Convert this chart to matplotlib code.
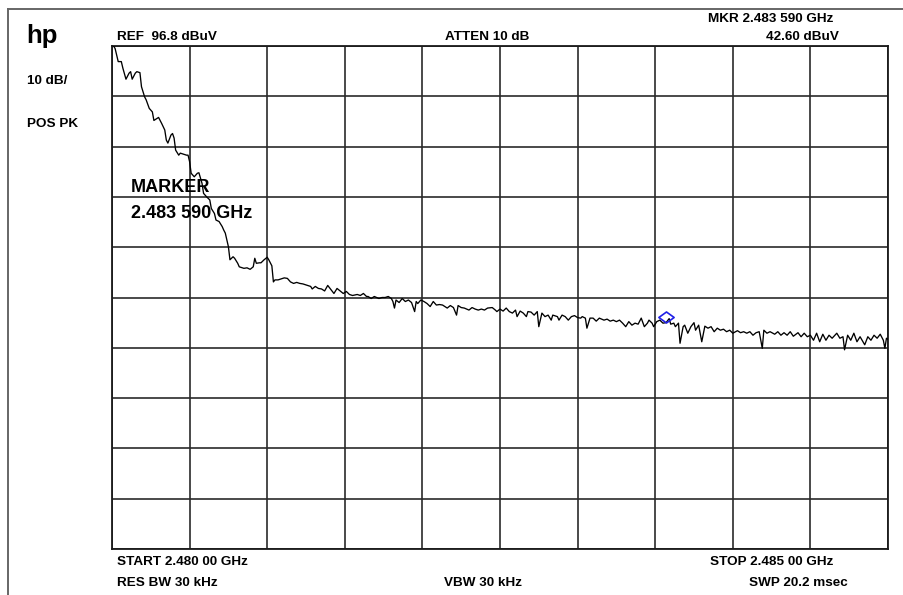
import matplotlib
matplotlib.use("Agg")
import matplotlib.pyplot as plt
from matplotlib.lines import Line2D
from matplotlib.path import Path
import numpy as np

W, H = 904, 595

ref_level = 96.8      # dBuV at top graticule
db_per_div = 10
n_div = 10
span_mhz = 5.0        # 2.480 00 .. 2.485 00 GHz
marker_mhz = 3.59
marker_dbuv = 42.60

# sweep trace, offset from START (MHz) and level (dBuV)
trace_mhz = [
    0.01, 0.02, 0.03, 0.04, 0.06, 0.07, 0.09, 0.11, 0.12, 0.13,
    0.15, 0.16, 0.18, 0.19, 0.21, 0.22, 0.24, 0.26, 0.27, 0.29,
    0.30, 0.32, 0.34, 0.35, 0.36, 0.38, 0.39, 0.40, 0.41, 0.43,
    0.44, 0.46, 0.48, 0.49, 0.50, 0.51, 0.53, 0.55, 0.56, 0.58,
    0.59, 0.61, 0.63, 0.64, 0.66, 0.67, 0.69, 0.71, 0.72, 0.73,
    0.75, 0.76, 0.78, 0.79, 0.81, 0.82, 0.85, 0.87, 0.89, 0.91,
    0.92, 0.93, 0.95, 0.96, 0.98, 1.00, 1.01, 1.03, 1.04, 1.05,
    1.07, 1.09, 1.11, 1.13, 1.15, 1.17, 1.19, 1.21, 1.23, 1.25,
    1.28, 1.29, 1.31, 1.33, 1.35, 1.37, 1.39, 1.42, 1.43, 1.45,
    1.47, 1.49, 1.51, 1.53, 1.55, 1.58, 1.60, 1.62, 1.64, 1.65,
    1.67, 1.69, 1.72, 1.74, 1.76, 1.78, 1.80, 1.81, 1.82, 1.83,
    1.85, 1.87, 1.89, 1.91, 1.93, 1.95, 1.96, 1.97, 1.99, 2.01,
    2.03, 2.05, 2.07, 2.09, 2.11, 2.13, 2.16, 2.18, 2.20, 2.22,
    2.23, 2.25, 2.27, 2.30, 2.32, 2.34, 2.36, 2.38, 2.40, 2.42,
    2.45, 2.47, 2.48, 2.50, 2.52, 2.54, 2.56, 2.58, 2.60, 2.61,
    2.63, 2.65, 2.67, 2.68, 2.70, 2.72, 2.74, 2.75, 2.77, 2.79,
    2.81, 2.83, 2.84, 2.87, 2.88, 2.90, 2.92, 2.94, 2.96, 2.98,
    3.00, 3.02, 3.03, 3.05, 3.06, 3.08, 3.10, 3.12, 3.14, 3.17,
    3.19, 3.21, 3.23, 3.25, 3.27, 3.29, 3.31, 3.33, 3.35, 3.37,
    3.39, 3.41, 3.43, 3.45, 3.46, 3.48, 3.49, 3.51, 3.53, 3.55,
    3.57, 3.59, 3.60, 3.62, 3.63, 3.65, 3.66, 3.68, 3.69, 3.71,
    3.73, 3.75, 3.76, 3.78, 3.80, 3.82, 3.84, 3.86, 3.88, 3.90,
    3.92, 3.94, 3.96, 3.98, 4.00, 4.03, 4.05, 4.07, 4.09, 4.11,
    4.13, 4.15, 4.17, 4.19, 4.20, 4.22, 4.24, 4.27, 4.29, 4.31,
    4.33, 4.35, 4.37, 4.39, 4.42, 4.44, 4.46, 4.48, 4.50, 4.52,
    4.54, 4.56, 4.58, 4.60, 4.62, 4.64, 4.67, 4.69, 4.71, 4.72,
    4.74, 4.76, 4.78, 4.80, 4.82, 4.85, 4.87, 4.89, 4.91, 4.93,
    4.95, 4.97, 4.98, 4.99, 5.00,
]
trace_dbuv = [
    96.8, 96.3, 95.0, 93.7, 93.7, 92.4, 90.2, 91.4, 91.7, 90.2,
    91.4, 91.7, 91.5, 88.7, 86.7, 86.1, 84.4, 83.7, 82.0, 82.4,
    82.6, 81.4, 80.1, 78.1, 77.5, 79.1, 79.4, 78.5, 76.1, 75.1,
    75.5, 75.3, 75.1, 75.1, 73.8, 71.5, 70.8, 71.5, 71.6, 69.5,
    67.5, 66.8, 66.2, 64.5, 63.5, 62.2, 61.9, 60.9, 60.2, 59.6,
    56.9, 54.3, 54.9, 54.6, 53.6, 52.9, 52.6, 52.7, 52.4, 52.9,
    54.6, 53.6, 53.7, 53.7, 54.3, 54.8, 54.3, 53.1, 49.9, 50.3,
    50.3, 50.5, 50.7, 50.6, 49.9, 49.6, 49.8, 49.6, 49.5, 49.3,
    49.0, 48.5, 49.0, 48.6, 48.5, 48.1, 49.2, 48.0, 47.6, 48.6,
    48.1, 47.6, 48.0, 47.4, 47.2, 47.4, 47.2, 47.6, 47.0, 47.0,
    46.6, 47.0, 46.6, 46.8, 46.8, 47.0, 46.6, 46.0, 44.7, 46.3,
    45.8, 46.6, 46.0, 46.3, 45.8, 44.0, 46.0, 45.6, 46.3, 46.0,
    45.6, 45.0, 46.0, 45.3, 45.4, 45.3, 44.7, 45.2, 44.8, 43.3,
    45.2, 44.8, 44.7, 44.3, 44.8, 44.5, 44.3, 44.5, 44.3, 44.7,
    44.8, 44.3, 44.0, 44.5, 44.1, 44.7, 44.0, 43.7, 44.3, 43.0,
    44.1, 43.7, 43.0, 44.0, 43.9, 43.3, 44.0, 41.0, 43.7, 43.0,
    43.3, 42.3, 43.3, 43.0, 42.3, 43.3, 43.0, 42.3, 43.0, 43.2,
    42.8, 42.7, 43.0, 42.7, 40.7, 42.7, 42.7, 42.1, 42.7, 42.3,
    42.5, 42.1, 42.3, 42.0, 42.3, 41.7, 41.0, 42.0, 41.3, 41.7,
    41.5, 42.7, 41.0, 41.7, 42.3, 41.7, 41.0, 42.0, 42.3, 41.7,
    41.8, 42.6, 41.5, 41.7, 41.0, 41.7, 37.7, 41.0, 41.3, 39.7,
    41.0, 41.8, 40.3, 41.3, 38.0, 41.1, 40.7, 41.0, 40.0, 40.7,
    40.3, 40.5, 40.0, 40.3, 39.7, 40.2, 39.8, 40.0, 39.7, 40.0,
    39.3, 39.8, 40.0, 36.7, 40.3, 39.7, 40.0, 39.5, 40.0, 39.3,
    39.8, 39.3, 40.0, 39.1, 39.8, 39.0, 39.7, 39.0, 39.3, 38.3,
    39.7, 38.0, 39.5, 38.3, 39.3, 38.7, 39.7, 38.7, 39.0, 36.4,
    39.3, 38.3, 39.7, 38.0, 39.0, 37.4, 39.0, 38.3, 39.3, 38.7,
    39.5, 38.3, 36.7, 38.7, 38.5,
]

header_left = ["10 dB/", "POS PK"]
ref_label = "REF  96.8 dBuV"
atten_label = "ATTEN 10 dB"
mkr_freq_label = "MKR 2.483 590 GHz"
mkr_level_label = "42.60 dBuV"
marker_note = ["MARKER", "2.483 590 GHz"]
start_label = "START 2.480 00 GHz"
stop_label = "STOP 2.485 00 GHz"
rbw_label = "RES BW 30 kHz"
vbw_label = "VBW 30 kHz"
swp_label = "SWP 20.2 msec"

plt.rcParams['font.family'] = ['Liberation Sans', 'DejaVu Sans']
plt.rcParams['font.weight'] = 'bold'
LABEL_SIZE = 9.7


def fx(x):
    return x / W


def fy(y):
    return 1 - y / H


fig = plt.figure(figsize=(W / 100, H / 100), dpi=100)
fig.patch.set_facecolor('white')

# graticule area
gl, gr, gt, gb = 112, 888, 46, 549
ax = fig.add_axes([fx(gl), fy(gb), fx(gr - gl), fy(gt) - fy(gb)])
bottom_level = ref_level - n_div * db_per_div
ax.set_xlim(0, span_mhz)
ax.set_ylim(bottom_level, ref_level)
ax.set_xticks(np.linspace(0, span_mhz, n_div + 1))
ax.set_yticks(np.linspace(bottom_level, ref_level, n_div + 1))
ax.tick_params(length=0, labelbottom=False, labelleft=False)
ax.grid(True, color='#2a2a2a', linewidth=1.2)
for s in ax.spines.values():
    s.set_color('#1a1a1a')
    s.set_linewidth(1.3)

ax.plot(trace_mhz, trace_dbuv, color='black', linewidth=0.95, zorder=3)

# open blue diamond at the marker
diamond = Path([(-1, 0), (0, 0.72), (1, 0), (0, -0.72), (-1, 0)],
               [Path.MOVETO, Path.LINETO, Path.LINETO, Path.LINETO, Path.CLOSEPOLY])
ax.plot([marker_mhz - 0.02], [marker_dbuv + 0.4], marker=diamond, markersize=11,
        markerfacecolor='none', markeredgecolor='#1f1fe6', markeredgewidth=1.2, zorder=4)

# outer frame (top and left edges)
fig.add_artist(Line2D([fx(8), 1], [fy(9), fy(9)], color='#666666', linewidth=1.4))
fig.add_artist(Line2D([fx(8), fx(8)], [fy(9), 0], color='#666666', linewidth=1.4))

fig.text(fx(26), fy(36), "hp", fontsize=18.5, fontweight='bold', va='center', ha='left')
fig.text(fx(27), fy(81), header_left[0], fontsize=LABEL_SIZE, va='center')
fig.text(fx(27), fy(124), header_left[1], fontsize=LABEL_SIZE, va='center')

fig.text(fx(117), fy(37), ref_label, fontsize=LABEL_SIZE, va='center')
fig.text(fx(487), fy(37), atten_label, fontsize=LABEL_SIZE, va='center', ha='center')
fig.text(fx(833), fy(19), mkr_freq_label, fontsize=LABEL_SIZE, va='center', ha='right')
fig.text(fx(839), fy(37), mkr_level_label, fontsize=LABEL_SIZE, va='center', ha='right')

fig.text(fx(131), fy(188), marker_note[0], fontsize=13, va='center')
fig.text(fx(131), fy(213), marker_note[1], fontsize=13, va='center')

fig.text(fx(117), fy(562), start_label, fontsize=LABEL_SIZE, va='center')
fig.text(fx(833), fy(562), stop_label, fontsize=LABEL_SIZE, va='center', ha='right')
fig.text(fx(117), fy(583), rbw_label, fontsize=LABEL_SIZE, va='center')
fig.text(fx(483), fy(583), vbw_label, fontsize=LABEL_SIZE, va='center', ha='center')
fig.text(fx(848), fy(583), swp_label, fontsize=LABEL_SIZE, va='center', ha='right')

fig.savefig("out.png", dpi=100)
